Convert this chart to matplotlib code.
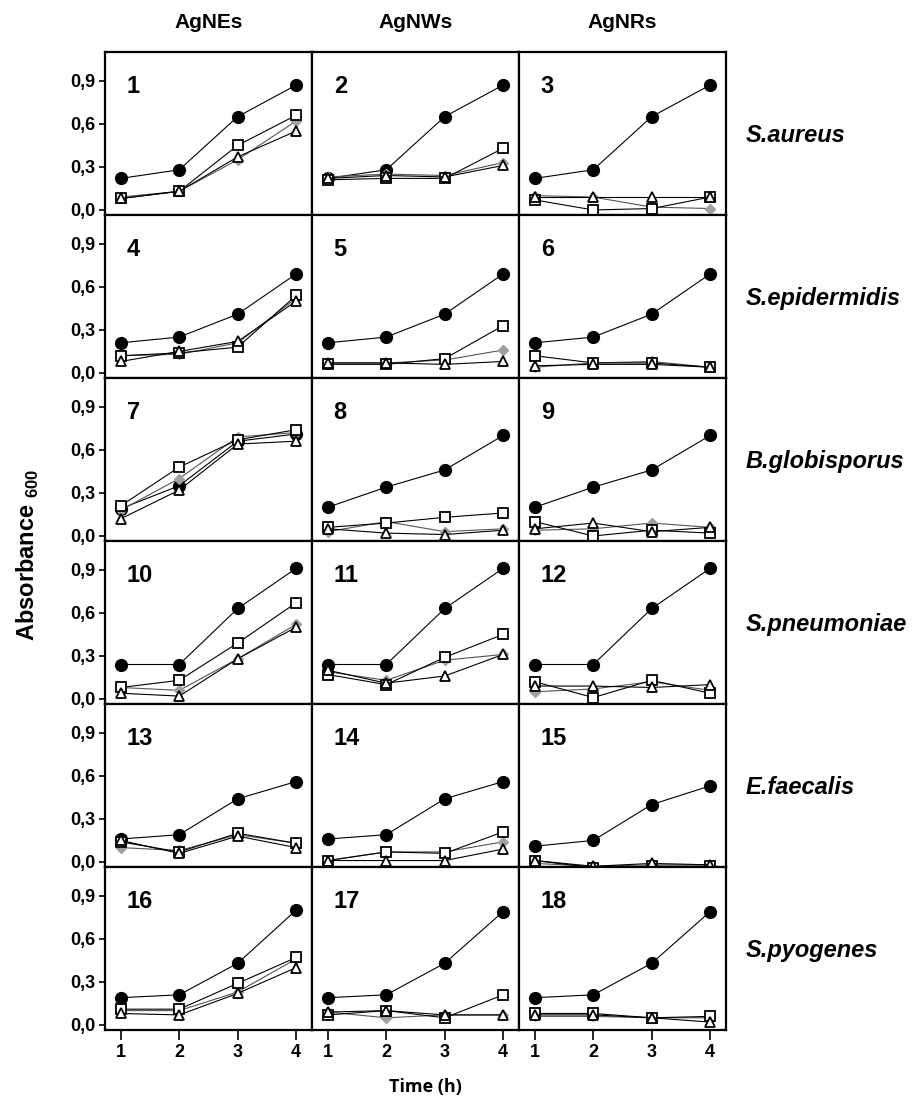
import matplotlib
matplotlib.use("Agg")
import matplotlib.pyplot as plt
from matplotlib.transforms import blended_transform_factory

plt.rcParams['font.family'] = ['Liberation Sans', 'DejaVu Sans']
plt.rcParams['mathtext.fontset'] = 'custom'
plt.rcParams['mathtext.rm'] = 'Liberation Sans:bold'
plt.rcParams['mathtext.bf'] = 'Liberation Sans:bold'

# data: one row of 4 time points per panel (1..18)
time_h = [1, 2, 3, 4]
nanos = ["AgNEs", "AgNWs", "AgNRs"]
species = ["S.aureus", "S.epidermidis", "B.globisporus",
           "S.pneumoniae", "E.faecalis", "S.pyogenes"]
yticks = [0.0, 0.3, 0.6, 0.9]
ytick_labels = ["0,0", "0,3", "0,6", "0,9"]

control = [
    [0.22, 0.28, 0.65, 0.87], [0.22, 0.28, 0.65, 0.87], [0.22, 0.28, 0.65, 0.87],
    [0.21, 0.25, 0.41, 0.69], [0.21, 0.25, 0.41, 0.69], [0.21, 0.25, 0.41, 0.69],
    [0.19, 0.35, 0.66, 0.71], [0.20, 0.34, 0.46, 0.70], [0.20, 0.34, 0.46, 0.70],
    [0.24, 0.24, 0.63, 0.91], [0.24, 0.24, 0.63, 0.91], [0.24, 0.24, 0.63, 0.91],
    [0.16, 0.19, 0.44, 0.56], [0.16, 0.19, 0.44, 0.56], [0.11, 0.15, 0.40, 0.53],
    [0.19, 0.21, 0.43, 0.80], [0.19, 0.21, 0.43, 0.79], [0.19, 0.21, 0.43, 0.79],
]
squares = [
    [0.08, 0.13, 0.45, 0.66], [0.21, 0.22, 0.22, 0.43], [0.07, 0.00, 0.01, 0.09],
    [0.12, 0.14, 0.18, 0.54], [0.06, 0.06, 0.10, 0.33], [0.12, 0.07, 0.07, 0.04],
    [0.21, 0.48, 0.67, 0.74], [0.06, 0.09, 0.13, 0.16], [0.10, 0.00, 0.04, 0.02],
    [0.08, 0.13, 0.39, 0.67], [0.17, 0.10, 0.29, 0.45], [0.12, 0.01, 0.13, 0.04],
    [0.14, 0.07, 0.20, 0.13], [0.01, 0.07, 0.06, 0.21], [0.01, -0.04, -0.03, -0.03],
    [0.11, 0.11, 0.29, 0.47], [0.07, 0.10, 0.05, 0.21], [0.08, 0.08, 0.05, 0.06],
]
diamonds = [
    [0.09, 0.13, 0.35, 0.62], [0.23, 0.25, 0.24, 0.33], [0.10, 0.09, 0.02, 0.01],
    [0.12, 0.13, 0.21, 0.52], [0.07, 0.07, 0.09, 0.16], [0.04, 0.07, 0.08, 0.04],
    [0.18, 0.40, 0.69, 0.72], [0.03, 0.10, 0.03, 0.05], [0.04, 0.05, 0.09, 0.06],
    [0.08, 0.06, 0.28, 0.52], [0.19, 0.13, 0.27, 0.31], [0.05, 0.07, 0.12, 0.06],
    [0.10, 0.08, 0.19, 0.13], [0.01, 0.07, 0.07, 0.14], [-0.01, -0.03, -0.02, -0.02],
    [0.10, 0.10, 0.23, 0.46], [0.09, 0.05, 0.07, 0.07], [0.06, 0.06, 0.05, 0.05],
]
triangles = [
    [0.08, 0.13, 0.37, 0.55], [0.22, 0.24, 0.23, 0.31], [0.09, 0.09, 0.09, 0.09],
    [0.08, 0.15, 0.22, 0.50], [0.07, 0.07, 0.06, 0.08], [0.05, 0.06, 0.06, 0.04],
    [0.12, 0.32, 0.64, 0.66], [0.05, 0.02, 0.01, 0.04], [0.05, 0.09, 0.03, 0.06],
    [0.04, 0.02, 0.28, 0.50], [0.20, 0.11, 0.16, 0.31], [0.09, 0.09, 0.08, 0.10],
    [0.15, 0.06, 0.18, 0.10], [0.01, 0.01, 0.01, 0.09], [0.01, -0.03, -0.01, -0.02],
    [0.08, 0.07, 0.22, 0.40], [0.09, 0.10, 0.07, 0.07], [0.07, 0.07, 0.05, 0.02],
]

W, H = 921, 1103
fig = plt.figure(figsize=(W / 100, H / 100), dpi=100)

left0, col_w = 105, 207
top0, row_h = 52, 163

for r in range(6):
    for c in range(3):
        i = r * 3 + c
        x0 = left0 + c * col_w
        y_top = top0 + r * row_h
        ax = fig.add_axes([x0 / W, 1 - (y_top + row_h) / H, col_w / W, row_h / H])
        ax.plot(time_h, control[i], color='black', lw=0.8, marker='o',
                ms=8.5, mfc='black', mec='black', zorder=3)
        ax.plot(time_h, diamonds[i], color='#555555', lw=0.8, marker='D',
                ms=5.5, mfc='#a0a0a0', mec='#a0a0a0', zorder=4)
        ax.plot(time_h, squares[i], color='black', lw=0.8, marker='s',
                ms=7.5, mfc='white', mec='black', mew=1.3, zorder=5)
        ax.plot(time_h, triangles[i], color='black', lw=0.8, marker='^',
                ms=7.5, mfc='white', mec='black', mew=1.3, zorder=6)
        ax.set_xlim(0.73, 4.27)
        ax.set_ylim(-0.035, 1.10)
        for s in ax.spines.values():
            s.set_linewidth(1.6)
        ax.text(1.1, 0.86, str(i + 1), fontsize=17, fontweight='bold',
                ha='left', va='center')
        if c == 0:
            ax.set_yticks(yticks)
            ax.set_yticklabels(ytick_labels, fontsize=13, fontweight='bold')
            ax.tick_params(axis='y', direction='out', length=4, width=1.2, pad=3)
        else:
            ax.set_yticks([])
        if r == 5:
            ax.set_xticks(time_h)
            ax.set_xticklabels([str(t) for t in time_h], fontsize=13,
                               fontweight='bold')
            ax.tick_params(axis='x', direction='out', length=7, width=1.2, pad=3)
        else:
            ax.set_xticks([])
        if r == 0:
            fig.text((x0 + col_w / 2) / W, 1 - 22 / H, nanos[c], fontsize=15,
                     fontweight='bold', ha='center', va='center')
        if c == 2:
            tr = blended_transform_factory(ax.transAxes, ax.transData)
            ax.text(1.095, 0.52, species[r], transform=tr, fontsize=17,
                    fontweight='bold', style='italic', ha='left', va='center')

fig.text(28 / W, 1 - 555 / H, r'Absorbance $_{600}$', rotation=90,
         fontsize=17, fontweight='bold', ha='center', va='center')
fig.text(425 / W, 1 - 1087 / H, 'Time (h)', fontsize=13, fontweight='bold',
         family=['Open Sans', 'DejaVu Sans'], ha='center', va='center')

fig.savefig('out.png', dpi=100)
